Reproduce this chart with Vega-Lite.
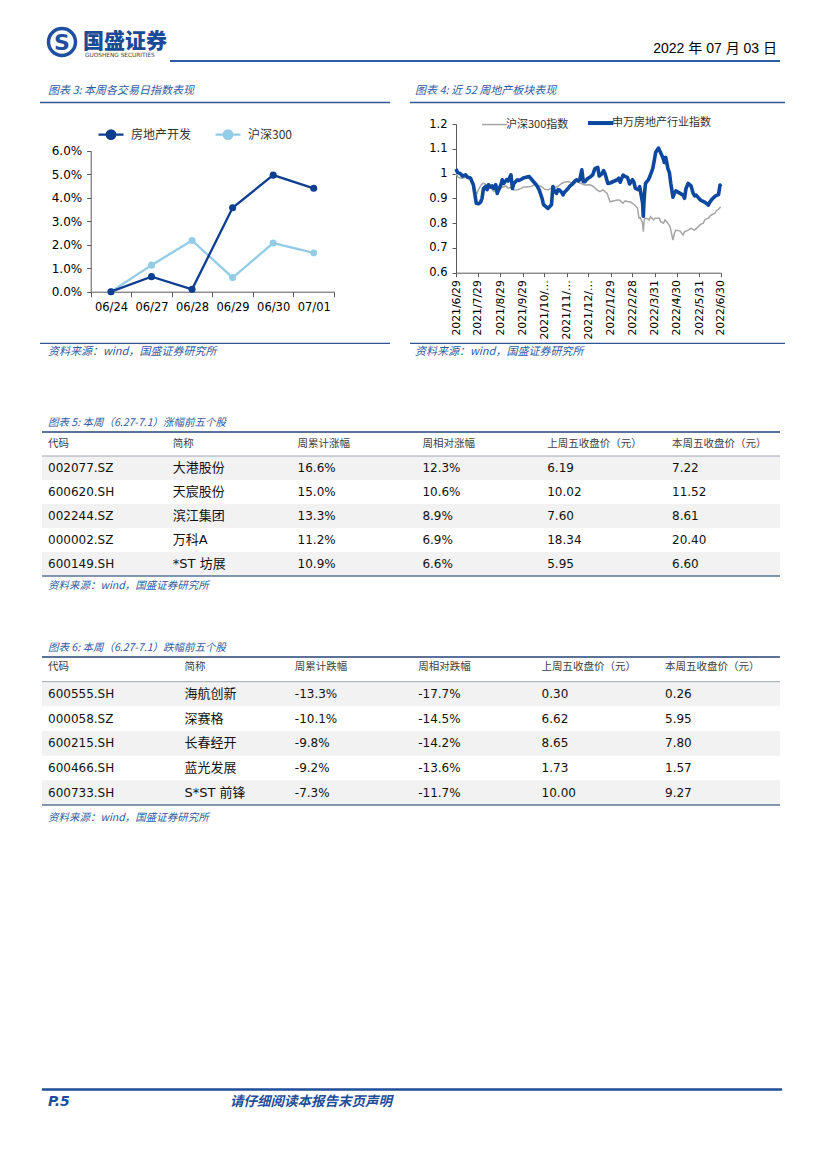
{
"$schema":"https://vega.github.io/schema/vega-lite/v6.json",
"width":827,"height":1169,
"autosize":{"type":"fit","contains":"padding"},
"padding":0,
"background":"#ffffff",
"config":{"view":{"stroke":null},"axis":{"labelFont":"DejaVu Sans","labelColor":"#000000","domainColor":"#595959","tickColor":"#595959","grid":false},"legend":{"labelFont":"Noto Sans CJK SC","labelColor":"#333333"}},
"resolve":{"scale":{"x":"independent","y":"independent","color":"independent"},"axis":{"x":"independent","y":"independent"},"legend":{"color":"independent"}},
"layer":[
{"data":{"values":[{}]},"mark":{"type":"point","shape":"circle","filled":false,"stroke":"#1f4f9e","strokeWidth":3.5,"size":729,"opacity":1},"encoding":{"x":{"value":62},"y":{"value":42}}},
{"data":{"values":[{}]},"mark":{"type":"text","text":"S","font":"DejaVu Sans","fontWeight":"bold","fontSize":22,"fill":"#1f4f9e","align":"center","baseline":"middle"},"encoding":{"x":{"value":62},"y":{"value":43}}},
{"data":{"values":[{}]},"mark":{"type":"text","text":"国盛证券","font":"Noto Sans CJK SC","fontWeight":900,"fontSize":21,"fill":"#1b4a96","align":"left","baseline":"alphabetic"},"encoding":{"x":{"value":83},"y":{"value":48}}},
{"data":{"values":[{}]},"mark":{"type":"text","text":"GUOSHENG SECURITIES","font":"DejaVu Sans","fontSize":5.8,"fill":"#444444","align":"left","baseline":"alphabetic"},"encoding":{"x":{"value":85},"y":{"value":57}}},
{"data":{"values":[{}]},"mark":{"type":"text","text":"2022 年 07 月 03 日","font":"Liberation Sans, Noto Sans CJK SC","fontSize":14,"fill":"#000000","align":"right","baseline":"alphabetic"},"encoding":{"x":{"value":777},"y":{"value":53}}},
{"data":{"values":[{}]},"mark":{"type":"rule","stroke":"#2f5ca6","strokeWidth":2},"encoding":{"x":{"value":170},"x2":{"value":780},"y":{"value":61}}},
{"data":{"values":[{}]},"mark":{"type":"text","text":"图表 3: 本周各交易日指数表现","font":"Noto Sans CJK SC","fontSize":11,"fontStyle":"italic","fill":"#2f5ba3","align":"left","baseline":"alphabetic"},"encoding":{"x":{"value":48},"y":{"value":94}}},
{"data":{"values":[{}]},"mark":{"type":"text","text":"图表 4: 近 52 周地产板块表现","font":"Noto Sans CJK SC","fontSize":11,"fontStyle":"italic","fill":"#2f5ba3","align":"left","baseline":"alphabetic"},"encoding":{"x":{"value":415},"y":{"value":94}}},
{"data":{"values":[{}]},"mark":{"type":"rule","stroke":"#2f5597","strokeWidth":1.3},"encoding":{"x":{"value":40},"x2":{"value":390},"y":{"value":102.5}}},
{"data":{"values":[{}]},"mark":{"type":"rule","stroke":"#2f5597","strokeWidth":1.3},"encoding":{"x":{"value":410},"x2":{"value":785},"y":{"value":102.5}}},
{"data":{"values":[{}]},"mark":{"type":"rule","stroke":"#2f5597","strokeWidth":1.3},"encoding":{"x":{"value":40},"x2":{"value":390},"y":{"value":343.3}}},
{"data":{"values":[{}]},"mark":{"type":"rule","stroke":"#2f5597","strokeWidth":1.3},"encoding":{"x":{"value":410},"x2":{"value":785},"y":{"value":343.3}}},
{"data":{"values":[{}]},"mark":{"type":"text","text":"资料来源：wind，国盛证券研究所","font":"Noto Sans CJK SC","fontSize":11,"fontStyle":"italic","fill":"#2f5ba3","align":"left","baseline":"alphabetic"},"encoding":{"x":{"value":48},"y":{"value":355}}},
{"data":{"values":[{}]},"mark":{"type":"text","text":"资料来源：wind，国盛证券研究所","font":"Noto Sans CJK SC","fontSize":11,"fontStyle":"italic","fill":"#2f5ba3","align":"left","baseline":"alphabetic"},"encoding":{"x":{"value":415},"y":{"value":355}}},
{"data":{"values":[{}]},"mark":{"type":"text","text":"图表 5: 本周（6.27-7.1）涨幅前五个股","font":"Noto Sans CJK SC","fontSize":10.5,"fontStyle":"italic","fill":"#2f5ba3","align":"left","baseline":"alphabetic"},"encoding":{"x":{"value":48},"y":{"value":425.5}}},
{"data":{"values":[{}]},"mark":{"type":"text","text":"资料来源：wind，国盛证券研究所","font":"Noto Sans CJK SC","fontSize":10.5,"fontStyle":"italic","fill":"#2f5ba3","align":"left","baseline":"alphabetic"},"encoding":{"x":{"value":48},"y":{"value":589}}},
{"data":{"values":[{}]},"mark":{"type":"text","text":"图表 6: 本周（6.27-7.1）跌幅前五个股","font":"Noto Sans CJK SC","fontSize":10.5,"fontStyle":"italic","fill":"#2f5ba3","align":"left","baseline":"alphabetic"},"encoding":{"x":{"value":48},"y":{"value":650.5}}},
{"data":{"values":[{}]},"mark":{"type":"text","text":"资料来源：wind，国盛证券研究所","font":"Noto Sans CJK SC","fontSize":10.5,"fontStyle":"italic","fill":"#2f5ba3","align":"left","baseline":"alphabetic"},"encoding":{"x":{"value":48},"y":{"value":821}}},
{"data":{"values":[{}]},"mark":{"type":"rule","stroke":"#1f4e9a","strokeWidth":2.5},"encoding":{"x":{"value":42},"x2":{"value":782},"y":{"value":1089.5}}},
{"data":{"values":[{}]},"mark":{"type":"text","text":"P.5","font":"DejaVu Sans","fontSize":14,"fontStyle":"italic","fontWeight":"bold","fill":"#1f4e9a","align":"left","baseline":"alphabetic"},"encoding":{"x":{"value":48},"y":{"value":1106}}},
{"data":{"values":[{}]},"mark":{"type":"text","text":"请仔细阅读本报告末页声明","font":"Noto Sans CJK SC","fontSize":13.5,"fontStyle":"italic","fontWeight":"bold","fill":"#1f4e9a","align":"left","baseline":"alphabetic"},"encoding":{"x":{"value":230},"y":{"value":1106}}},
{
 "data":{"values":[
  {"d":"06/24","s":"房地产开发","v":0},
  {"d":"06/27","s":"房地产开发","v":0.0064},
  {"d":"06/28","s":"房地产开发","v":0.001},
  {"d":"06/29","s":"房地产开发","v":0.0357},
  {"d":"06/30","s":"房地产开发","v":0.0496},
  {"d":"07/01","s":"房地产开发","v":0.044},
  {"d":"06/24","s":"沪深300","v":0},
  {"d":"06/27","s":"沪深300","v":0.0113},
  {"d":"06/28","s":"沪深300","v":0.0218},
  {"d":"06/29","s":"沪深300","v":0.006},
  {"d":"06/30","s":"沪深300","v":0.0207},
  {"d":"07/01","s":"沪深300","v":0.0165}
 ]},
 "encoding":{
  "x":{"field":"d","type":"ordinal","bandPosition":0.5,"scale":{"type":"band","domain":["06/24","06/27","06/28","06/29","06/30","07/01"],"range":[90.7,334],"paddingInner":0,"paddingOuter":0},"axis":{"orient":"bottom","offset":-877.3,"title":null,"labelAngle":0,"tickBand":"extent","tickSize":5,"labelPadding":5,"labelFontSize":11.5}},
  "y":{"field":"v","type":"quantitative","scale":{"domain":[0,0.06],"range":[291.7,150.7],"nice":false,"zero":false},"axis":{"orient":"left","offset":-90.7,"title":null,"values":[0,0.01,0.02,0.03,0.04,0.05,0.06],"format":".1%","tickSize":4,"labelPadding":5,"labelFontSize":12}},
  "color":{"field":"s","type":"nominal","scale":{"domain":["房地产开发","沪深300"],"range":["#0e3e8f","#93cce6"]},"legend":{"orient":"none","legendX":97,"legendY":120.5,"direction":"horizontal","title":null,"symbolType":"M-1,0L1,0M0.34,0A0.34,0.34,0,1,1,-0.34,0A0.34,0.34,0,1,1,0.34,0Z","symbolSize":625,"symbolStrokeWidth":2.3,"symbolOpacity":1,"labelFontSize":12,"labelOffset":6,"columnPadding":18,"encode":{"symbols":{"update":{"fill":{"signal":"datum.value === '房地产开发' ? '#0e3e8f' : '#93cce6'"},"stroke":{"signal":"datum.value === '房地产开发' ? '#0e3e8f' : '#93cce6'"}}}}}}
 },
 "layer":[
  {"transform":[{"filter":"datum.s == '沪深300'"}],"mark":{"type":"line","strokeWidth":2.3}},
  {"transform":[{"filter":"datum.s == '沪深300'"}],"mark":{"type":"point","filled":true,"size":50,"opacity":1}},
  {"transform":[{"filter":"datum.s == '房地产开发'"}],"mark":{"type":"line","strokeWidth":2.3}},
  {"transform":[{"filter":"datum.s == '房地产开发'"}],"mark":{"type":"point","filled":true,"size":50,"opacity":1}}
 ]
},
{
 "data":{"values":[
{"d":"2021/06/29","s":"沪深300指数","v":1.0},{"d":"2021/07/02","s":"沪深300指数","v":0.985},{"d":"2021/07/07","s":"沪深300指数","v":0.98},{"d":"2021/07/12","s":"沪深300指数","v":0.985},{"d":"2021/07/16","s":"沪深300指数","v":0.98},{"d":"2021/07/20","s":"沪深300指数","v":0.975},{"d":"2021/07/23","s":"沪深300指数","v":0.96},{"d":"2021/07/26","s":"沪深300指数","v":0.925},{"d":"2021/07/28","s":"沪深300指数","v":0.92},{"d":"2021/07/30","s":"沪深300指数","v":0.935},{"d":"2021/08/03","s":"沪深300指数","v":0.955},{"d":"2021/08/06","s":"沪深300指数","v":0.961},{"d":"2021/08/10","s":"沪深300指数","v":0.955},{"d":"2021/08/13","s":"沪深300指数","v":0.95},{"d":"2021/08/17","s":"沪深300指数","v":0.94},{"d":"2021/08/20","s":"沪深300指数","v":0.928},{"d":"2021/08/24","s":"沪深300指数","v":0.935},{"d":"2021/08/27","s":"沪深300指数","v":0.932},{"d":"2021/09/01","s":"沪深300指数","v":0.945},{"d":"2021/09/06","s":"沪深300指数","v":0.95},{"d":"2021/09/09","s":"沪深300指数","v":0.941},{"d":"2021/09/14","s":"沪深300指数","v":0.945},{"d":"2021/09/17","s":"沪深300指数","v":0.934},{"d":"2021/09/22","s":"沪深300指数","v":0.935},{"d":"2021/09/27","s":"沪深300指数","v":0.94},{"d":"2021/09/30","s":"沪深300指数","v":0.945},{"d":"2021/10/11","s":"沪深300指数","v":0.948},{"d":"2021/10/15","s":"沪深300指数","v":0.955},{"d":"2021/10/20","s":"沪深300指数","v":0.952},{"d":"2021/10/25","s":"沪深300指数","v":0.948},{"d":"2021/10/29","s":"沪深300指数","v":0.938},{"d":"2021/11/03","s":"沪深300指数","v":0.934},{"d":"2021/11/08","s":"沪深300指数","v":0.941},{"d":"2021/11/12","s":"沪深300指数","v":0.945},{"d":"2021/11/17","s":"沪深300指数","v":0.948},{"d":"2021/11/22","s":"沪深300指数","v":0.96},{"d":"2021/11/26","s":"沪深300指数","v":0.965},{"d":"2021/12/01","s":"沪深300指数","v":0.968},{"d":"2021/12/06","s":"沪深300指数","v":0.962},{"d":"2021/12/10","s":"沪深300指数","v":0.975},{"d":"2021/12/14","s":"沪深300指数","v":0.97},{"d":"2021/12/17","s":"沪深300指数","v":0.962},{"d":"2021/12/21","s":"沪深300指数","v":0.958},{"d":"2021/12/24","s":"沪深300指数","v":0.954},{"d":"2021/12/31","s":"沪深300指数","v":0.955},{"d":"2022/01/04","s":"沪深300指数","v":0.95},{"d":"2022/01/10","s":"沪深300指数","v":0.934},{"d":"2022/01/14","s":"沪深300指数","v":0.927},{"d":"2022/01/18","s":"沪深300指数","v":0.934},{"d":"2022/01/24","s":"沪深300指数","v":0.92},{"d":"2022/01/28","s":"沪深300指数","v":0.886},{"d":"2022/02/07","s":"沪深300指数","v":0.893},{"d":"2022/02/10","s":"沪深300指数","v":0.893},{"d":"2022/02/15","s":"沪深300指数","v":0.88},{"d":"2022/02/18","s":"沪深300指数","v":0.89},{"d":"2022/02/22","s":"沪深300指数","v":0.886},{"d":"2022/02/25","s":"沪深300指数","v":0.886},{"d":"2022/03/01","s":"沪深300指数","v":0.878},{"d":"2022/03/04","s":"沪深300指数","v":0.87},{"d":"2022/03/07","s":"沪深300指数","v":0.86},{"d":"2022/03/08","s":"沪深300指数","v":0.84},{"d":"2022/03/09","s":"沪深300指数","v":0.82},{"d":"2022/03/11","s":"沪深300指数","v":0.822},{"d":"2022/03/14","s":"沪深300指数","v":0.8},{"d":"2022/03/15","s":"沪深300指数","v":0.765},{"d":"2022/03/16","s":"沪深300指数","v":0.805},{"d":"2022/03/17","s":"沪深300指数","v":0.82},{"d":"2022/03/21","s":"沪深300指数","v":0.818},{"d":"2022/03/23","s":"沪深300指数","v":0.813},{"d":"2022/03/25","s":"沪深300指数","v":0.826},{"d":"2022/03/29","s":"沪深300指数","v":0.813},{"d":"2022/03/31","s":"沪深300指数","v":0.82},{"d":"2022/04/06","s":"沪深300指数","v":0.82},{"d":"2022/04/08","s":"沪深300指数","v":0.806},{"d":"2022/04/12","s":"沪深300指数","v":0.8},{"d":"2022/04/14","s":"沪深300指数","v":0.813},{"d":"2022/04/18","s":"沪深300指数","v":0.8},{"d":"2022/04/21","s":"沪深300指数","v":0.785},{"d":"2022/04/22","s":"沪深300指数","v":0.772},{"d":"2022/04/25","s":"沪深300指数","v":0.732},{"d":"2022/04/27","s":"沪深300指数","v":0.759},{"d":"2022/04/29","s":"沪深300指数","v":0.772},{"d":"2022/05/05","s":"沪深300指数","v":0.768},{"d":"2022/05/09","s":"沪深300指数","v":0.752},{"d":"2022/05/11","s":"沪深300指数","v":0.765},{"d":"2022/05/16","s":"沪深300指数","v":0.772},{"d":"2022/05/20","s":"沪深300指数","v":0.779},{"d":"2022/05/25","s":"沪深300指数","v":0.772},{"d":"2022/05/30","s":"沪深300指数","v":0.786},{"d":"2022/06/02","s":"沪深300指数","v":0.795},{"d":"2022/06/06","s":"沪深300指数","v":0.8},{"d":"2022/06/08","s":"沪深300指数","v":0.813},{"d":"2022/06/13","s":"沪深300指数","v":0.82},{"d":"2022/06/15","s":"沪深300指数","v":0.828},{"d":"2022/06/17","s":"沪深300指数","v":0.833},{"d":"2022/06/22","s":"沪深300指数","v":0.84},{"d":"2022/06/24","s":"沪深300指数","v":0.85},{"d":"2022/06/27","s":"沪深300指数","v":0.856},{"d":"2022/06/30","s":"沪深300指数","v":0.866},
{"d":"2021/06/29","s":"申万房地产行业指数","v":1.018},{"d":"2021/07/01","s":"申万房地产行业指数","v":1.005},{"d":"2021/07/05","s":"申万房地产行业指数","v":1.0},{"d":"2021/07/08","s":"申万房地产行业指数","v":0.99},{"d":"2021/07/12","s":"申万房地产行业指数","v":0.995},{"d":"2021/07/15","s":"申万房地产行业指数","v":0.985},{"d":"2021/07/19","s":"申万房地产行业指数","v":0.982},{"d":"2021/07/21","s":"申万房地产行业指数","v":0.968},{"d":"2021/07/23","s":"申万房地产行业指数","v":0.955},{"d":"2021/07/26","s":"申万房地产行业指数","v":0.9},{"d":"2021/07/27","s":"申万房地产行业指数","v":0.88},{"d":"2021/07/30","s":"申万房地产行业指数","v":0.878},{"d":"2021/08/02","s":"申万房地产行业指数","v":0.885},{"d":"2021/08/04","s":"申万房地产行业指数","v":0.9},{"d":"2021/08/06","s":"申万房地产行业指数","v":0.94},{"d":"2021/08/09","s":"申万房地产行业指数","v":0.948},{"d":"2021/08/11","s":"申万房地产行业指数","v":0.935},{"d":"2021/08/13","s":"申万房地产行业指数","v":0.955},{"d":"2021/08/16","s":"申万房地产行业指数","v":0.945},{"d":"2021/08/18","s":"申万房地产行业指数","v":0.95},{"d":"2021/08/20","s":"申万房地产行业指数","v":0.94},{"d":"2021/08/23","s":"申万房地产行业指数","v":0.955},{"d":"2021/08/25","s":"申万房地产行业指数","v":0.92},{"d":"2021/08/27","s":"申万房地产行业指数","v":0.935},{"d":"2021/08/30","s":"申万房地产行业指数","v":0.955},{"d":"2021/09/01","s":"申万房地产行业指数","v":0.975},{"d":"2021/09/03","s":"申万房地产行业指数","v":0.96},{"d":"2021/09/07","s":"申万房地产行业指数","v":0.975},{"d":"2021/09/09","s":"申万房地产行业指数","v":0.97},{"d":"2021/09/13","s":"申万房地产行业指数","v":0.995},{"d":"2021/09/15","s":"申万房地产行业指数","v":0.94},{"d":"2021/09/17","s":"申万房地产行业指数","v":0.96},{"d":"2021/09/22","s":"申万房地产行业指数","v":0.975},{"d":"2021/09/24","s":"申万房地产行业指数","v":0.972},{"d":"2021/09/28","s":"申万房地产行业指数","v":0.978},{"d":"2021/09/30","s":"申万房地产行业指数","v":0.982},{"d":"2021/10/08","s":"申万房地产行业指数","v":0.988},{"d":"2021/10/12","s":"申万房地产行业指数","v":0.975},{"d":"2021/10/14","s":"申万房地产行业指数","v":0.968},{"d":"2021/10/18","s":"申万房地产行业指数","v":0.955},{"d":"2021/10/20","s":"申万房地产行业指数","v":0.945},{"d":"2021/10/22","s":"申万房地产行业指数","v":0.934},{"d":"2021/10/26","s":"申万房地产行业指数","v":0.9},{"d":"2021/10/28","s":"申万房地产行业指数","v":0.875},{"d":"2021/11/01","s":"申万房地产行业指数","v":0.865},{"d":"2021/11/03","s":"申万房地产行业指数","v":0.86},{"d":"2021/11/05","s":"申万房地产行业指数","v":0.865},{"d":"2021/11/08","s":"申万房地产行业指数","v":0.874},{"d":"2021/11/10","s":"申万房地产行业指数","v":0.948},{"d":"2021/11/12","s":"申万房地产行业指数","v":0.93},{"d":"2021/11/15","s":"申万房地产行业指数","v":0.92},{"d":"2021/11/17","s":"申万房地产行业指数","v":0.935},{"d":"2021/11/19","s":"申万房地产行业指数","v":0.934},{"d":"2021/11/22","s":"申万房地产行业指数","v":0.925},{"d":"2021/11/24","s":"申万房地产行业指数","v":0.914},{"d":"2021/11/26","s":"申万房地产行业指数","v":0.925},{"d":"2021/11/29","s":"申万房地产行业指数","v":0.934},{"d":"2021/12/01","s":"申万房地产行业指数","v":0.94},{"d":"2021/12/03","s":"申万房地产行业指数","v":0.948},{"d":"2021/12/06","s":"申万房地产行业指数","v":0.955},{"d":"2021/12/08","s":"申万房地产行业指数","v":0.961},{"d":"2021/12/10","s":"申万房地产行业指数","v":0.968},{"d":"2021/12/13","s":"申万房地产行业指数","v":0.975},{"d":"2021/12/15","s":"申万房地产行业指数","v":0.97},{"d":"2021/12/17","s":"申万房地产行业指数","v":0.975},{"d":"2021/12/20","s":"申万房地产行业指数","v":1.015},{"d":"2021/12/22","s":"申万房地产行业指数","v":0.968},{"d":"2021/12/24","s":"申万房地产行业指数","v":0.967},{"d":"2021/12/28","s":"申万房地产行业指数","v":0.98},{"d":"2021/12/31","s":"申万房地产行业指数","v":0.985},{"d":"2022/01/04","s":"申万房地产行业指数","v":0.995},{"d":"2022/01/07","s":"申万房地产行业指数","v":1.02},{"d":"2022/01/11","s":"申万房地产行业指数","v":1.025},{"d":"2022/01/13","s":"申万房地产行业指数","v":0.99},{"d":"2022/01/17","s":"申万房地产行业指数","v":1.0},{"d":"2022/01/19","s":"申万房地产行业指数","v":1.012},{"d":"2022/01/21","s":"申万房地产行业指数","v":1.0},{"d":"2022/01/25","s":"申万房地产行业指数","v":0.96},{"d":"2022/01/28","s":"申万房地产行业指数","v":0.962},{"d":"2022/02/07","s":"申万房地产行业指数","v":0.975},{"d":"2022/02/09","s":"申万房地产行业指数","v":0.981},{"d":"2022/02/11","s":"申万房地产行业指数","v":0.965},{"d":"2022/02/15","s":"申万房地产行业指数","v":0.994},{"d":"2022/02/17","s":"申万房地产行业指数","v":0.99},{"d":"2022/02/21","s":"申万房地产行业指数","v":0.985},{"d":"2022/02/24","s":"申万房地产行业指数","v":0.958},{"d":"2022/02/28","s":"申万房地产行业指数","v":0.975},{"d":"2022/03/02","s":"申万房地产行业指数","v":0.965},{"d":"2022/03/04","s":"申万房地产行业指数","v":0.94},{"d":"2022/03/08","s":"申万房地产行业指数","v":0.935},{"d":"2022/03/10","s":"申万房地产行业指数","v":0.947},{"d":"2022/03/11","s":"申万房地产行业指数","v":0.93},{"d":"2022/03/14","s":"申万房地产行业指数","v":0.88},{"d":"2022/03/15","s":"申万房地产行业指数","v":0.828},{"d":"2022/03/16","s":"申万房地产行业指数","v":0.89},{"d":"2022/03/17","s":"申万房地产行业指数","v":0.93},{"d":"2022/03/18","s":"申万房地产行业指数","v":0.96},{"d":"2022/03/22","s":"申万房地产行业指数","v":0.975},{"d":"2022/03/24","s":"申万房地产行业指数","v":0.988},{"d":"2022/03/28","s":"申万房地产行业指数","v":1.02},{"d":"2022/03/30","s":"申万房地产行业指数","v":1.05},{"d":"2022/04/01","s":"申万房地产行业指数","v":1.085},{"d":"2022/04/05","s":"申万房地产行业指数","v":1.103},{"d":"2022/04/07","s":"申万房地产行业指数","v":1.09},{"d":"2022/04/11","s":"申万房地产行业指数","v":1.065},{"d":"2022/04/13","s":"申万房地产行业指数","v":1.045},{"d":"2022/04/15","s":"申万房地产行业指数","v":1.065},{"d":"2022/04/18","s":"申万房地产行业指数","v":1.02},{"d":"2022/04/20","s":"申万房地产行业指数","v":1.005},{"d":"2022/04/22","s":"申万房地产行业指数","v":0.96},{"d":"2022/04/25","s":"申万房地产行业指数","v":0.905},{"d":"2022/04/27","s":"申万房地产行业指数","v":0.92},{"d":"2022/04/29","s":"申万房地产行业指数","v":0.93},{"d":"2022/05/05","s":"申万房地产行业指数","v":0.92},{"d":"2022/05/09","s":"申万房地产行业指数","v":0.913},{"d":"2022/05/11","s":"申万房地产行业指数","v":0.9},{"d":"2022/05/13","s":"申万房地产行业指数","v":0.94},{"d":"2022/05/16","s":"申万房地产行业指数","v":0.96},{"d":"2022/05/18","s":"申万房地产行业指数","v":0.955},{"d":"2022/05/20","s":"申万房地产行业指数","v":0.95},{"d":"2022/05/23","s":"申万房地产行业指数","v":0.92},{"d":"2022/05/25","s":"申万房地产行业指数","v":0.91},{"d":"2022/05/27","s":"申万房地产行业指数","v":0.913},{"d":"2022/05/31","s":"申万房地产行业指数","v":0.9},{"d":"2022/06/02","s":"申万房地产行业指数","v":0.893},{"d":"2022/06/07","s":"申万房地产行业指数","v":0.886},{"d":"2022/06/10","s":"申万房地产行业指数","v":0.88},{"d":"2022/06/13","s":"申万房地产行业指数","v":0.873},{"d":"2022/06/15","s":"申万房地产行业指数","v":0.885},{"d":"2022/06/17","s":"申万房地产行业指数","v":0.893},{"d":"2022/06/21","s":"申万房地产行业指数","v":0.905},{"d":"2022/06/23","s":"申万房地产行业指数","v":0.91},{"d":"2022/06/27","s":"申万房地产行业指数","v":0.915},{"d":"2022/06/29","s":"申万房地产行业指数","v":0.954},{"d":"2022/06/30","s":"申万房地产行业指数","v":0.947}
 ]},
 "encoding":{
  "x":{"field":"d","type":"temporal","scale":{"domain":[{"year":2021,"month":6,"date":29},{"year":2022,"month":6,"date":30}],"range":[456,720.7],"nice":false},"axis":{"orient":"bottom","offset":-896.3,"title":null,"values":[{"year":2021,"month":6,"date":29},{"year":2021,"month":7,"date":29},{"year":2021,"month":8,"date":29},{"year":2021,"month":9,"date":29},{"year":2021,"month":10,"date":29},{"year":2021,"month":11,"date":29},{"year":2021,"month":12,"date":29},{"year":2022,"month":1,"date":29},{"year":2022,"month":2,"date":28},{"year":2022,"month":3,"date":31},{"year":2022,"month":4,"date":30},{"year":2022,"month":5,"date":31},{"year":2022,"month":6,"date":30}],"labelExpr":"(year(datum.value) == 2021 && month(datum.value) >= 9) ? timeFormat(datum.value, '%Y/%-m/') + '…' : timeFormat(datum.value, '%Y/%-m/%-d')","labelAngle":270,"labelFlush":false,"labelOverlap":false,"labelBound":false,"tickSize":4,"labelPadding":3,"labelFontSize":10.8}},
  "y":{"field":"v","type":"quantitative","scale":{"domain":[0.6,1.2],"range":[272.7,124],"nice":false,"zero":false},"axis":{"orient":"left","offset":-456,"title":null,"values":[0.6,0.7,0.8,0.9,1,1.1,1.2],"format":".1~f","tickSize":4,"labelPadding":5,"labelFontSize":11.5}},
  "color":{"field":"s","type":"nominal","scale":{"domain":["沪深300指数","申万房地产行业指数"],"range":["#a6a6a6","#0c47a0"]},"legend":{"orient":"none","legendX":489,"legendY":117.3,"direction":"horizontal","title":null,"symbolType":"stroke","symbolSize":625,"symbolStrokeWidth":2,"labelFontSize":11,"labelOffset":6,"columnPadding":11,"encode":{"symbols":{"update":{"strokeWidth":{"signal":"datum.value === '申万房地产行业指数' ? 4 : 1.5"}}}}}}
 },
 "layer":[
  {"transform":[{"filter":"datum.s == '沪深300指数'"}],"mark":{"type":"line","strokeWidth":1.5}},
  {"transform":[{"filter":"datum.s == '申万房地产行业指数'"}],"mark":{"type":"line","strokeWidth":3.6,"strokeJoin":"round"}}
 ]
},
{
 "data":{"values":[
  {"r":0,"code":"代码","name":"简称","cum":"周累计涨幅","rel":"周相对涨幅","prev":"上周五收盘价（元）","curr":"本周五收盘价（元）"},
  {"r":1,"code":"002077.SZ","name":"大港股份","cum":"16.6%","rel":"12.3%","prev":"6.19","curr":"7.22"},
  {"r":2,"code":"600620.SH","name":"天宸股份","cum":"15.0%","rel":"10.6%","prev":"10.02","curr":"11.52"},
  {"r":3,"code":"002244.SZ","name":"滨江集团","cum":"13.3%","rel":"8.9%","prev":"7.60","curr":"8.61"},
  {"r":4,"code":"000002.SZ","name":"万科A","cum":"11.2%","rel":"6.9%","prev":"18.34","curr":"20.40"},
  {"r":5,"code":"600149.SH","name":"*ST 坊展","cum":"10.9%","rel":"6.6%","prev":"5.95","curr":"6.60"}
 ]},
 "transform":[{"fold":["code","name","cum","rel","prev","curr"],"as":["key","value"]}],
 "layer":[
  {"transform":[{"filter":"datum.key == 'code' && (datum.r == 1 || datum.r == 3 || datum.r == 5)"}],"mark":{"type":"rect","fill":"#f2f2f2"},"encoding":{"x":{"value":42},"x2":{"value":780},"y":{"field":"r","type":"ordinal","scale":{"type":"band","domain":[0,1,2,3,4,5],"range":[432,576],"paddingInner":0,"paddingOuter":0},"axis":null}}},
  {"transform":[{"filter":"datum.key == 'code' && datum.r == 0"}],"mark":{"type":"rule","stroke":"#5b7398","strokeWidth":2},"encoding":{"x":{"value":42},"x2":{"value":780},"y":{"field":"r","type":"ordinal","bandPosition":0,"scale":{"type":"band","domain":[0,1,2,3,4,5],"range":[432,576],"paddingInner":0,"paddingOuter":0},"axis":null}}},
  {"transform":[{"filter":"datum.key == 'code' && datum.r == 1"}],"mark":{"type":"rule","stroke":"#a0a8b4","strokeWidth":1},"encoding":{"x":{"value":42},"x2":{"value":780},"y":{"field":"r","type":"ordinal","bandPosition":0,"scale":{"type":"band","domain":[0,1,2,3,4,5],"range":[432,576],"paddingInner":0,"paddingOuter":0},"axis":null}}},
  {"transform":[{"filter":"datum.key == 'code' && datum.r == 5"}],"mark":{"type":"rule","stroke":"#5b7398","strokeWidth":1.5},"encoding":{"x":{"value":42},"x2":{"value":780},"y":{"field":"r","type":"ordinal","bandPosition":1,"scale":{"type":"band","domain":[0,1,2,3,4,5],"range":[432,576],"paddingInner":0,"paddingOuter":0},"axis":null}}},
  {"transform":[{"filter":"datum.r == 0"}],"mark":{"type":"text","align":"left","baseline":"middle","font":"Noto Sans CJK SC","fontSize":10.5,"fill":"#404040"},"encoding":{"x":{"field":"key","type":"nominal","scale":{"type":"point","domain":["code","name","cum","rel","prev","curr"],"range":[48,672],"padding":0},"axis":null},"y":{"field":"r","type":"ordinal","bandPosition":0.5,"scale":{"type":"band","domain":[0,1,2,3,4,5],"range":[432,576],"paddingInner":0,"paddingOuter":0},"axis":null},"text":{"field":"value","type":"nominal"}}},
  {"transform":[{"filter":"datum.r > 0 && datum.key != 'name'"}],"mark":{"type":"text","align":"left","baseline":"middle","font":"DejaVu Sans","fontSize":12,"fill":"#111111"},"encoding":{"x":{"field":"key","type":"nominal","scale":{"type":"point","domain":["code","name","cum","rel","prev","curr"],"range":[48,672],"padding":0},"axis":null},"y":{"field":"r","type":"ordinal","bandPosition":0.5,"scale":{"type":"band","domain":[0,1,2,3,4,5],"range":[432,576],"paddingInner":0,"paddingOuter":0},"axis":null},"text":{"field":"value","type":"nominal"}}},
  {"transform":[{"filter":"datum.r > 0 && datum.key == 'name'"}],"mark":{"type":"text","align":"left","baseline":"middle","font":"DejaVu Sans, Noto Sans CJK SC","fontSize":13,"fill":"#111111"},"encoding":{"x":{"field":"key","type":"nominal","scale":{"type":"point","domain":["code","name","cum","rel","prev","curr"],"range":[48,672],"padding":0},"axis":null},"y":{"field":"r","type":"ordinal","bandPosition":0.5,"scale":{"type":"band","domain":[0,1,2,3,4,5],"range":[432,576],"paddingInner":0,"paddingOuter":0},"axis":null},"text":{"field":"value","type":"nominal"}}}
 ]
},
{
 "data":{"values":[
  {"r":0,"code":"代码","name":"简称","cum":"周累计跌幅","rel":"周相对跌幅","prev":"上周五收盘价（元）","curr":"本周五收盘价（元）"},
  {"r":1,"code":"600555.SH","name":"海航创新","cum":"-13.3%","rel":"-17.7%","prev":"0.30","curr":"0.26"},
  {"r":2,"code":"000058.SZ","name":"深赛格","cum":"-10.1%","rel":"-14.5%","prev":"6.62","curr":"5.95"},
  {"r":3,"code":"600215.SH","name":"长春经开","cum":"-9.8%","rel":"-14.2%","prev":"8.65","curr":"7.80"},
  {"r":4,"code":"600466.SH","name":"蓝光发展","cum":"-9.2%","rel":"-13.6%","prev":"1.73","curr":"1.57"},
  {"r":5,"code":"600733.SH","name":"S*ST 前锋","cum":"-7.3%","rel":"-11.7%","prev":"10.00","curr":"9.27"}
 ]},
 "transform":[{"fold":["code","name","cum","rel","prev","curr"],"as":["key","value"]}],
 "layer":[
  {"transform":[{"filter":"datum.key == 'code' && (datum.r == 1 || datum.r == 3 || datum.r == 5)"}],"mark":{"type":"rect","fill":"#f2f2f2"},"encoding":{"x":{"value":42},"x2":{"value":780},"y":{"field":"r","type":"ordinal","scale":{"type":"band","domain":[0,1,2,3,4,5],"range":[657,805],"paddingInner":0,"paddingOuter":0},"axis":null}}},
  {"transform":[{"filter":"datum.key == 'code' && datum.r == 0"}],"mark":{"type":"rule","stroke":"#5b7398","strokeWidth":2},"encoding":{"x":{"value":42},"x2":{"value":780},"y":{"field":"r","type":"ordinal","bandPosition":0,"scale":{"type":"band","domain":[0,1,2,3,4,5],"range":[657,805],"paddingInner":0,"paddingOuter":0},"axis":null}}},
  {"transform":[{"filter":"datum.key == 'code' && datum.r == 1"}],"mark":{"type":"rule","stroke":"#a0a8b4","strokeWidth":1},"encoding":{"x":{"value":42},"x2":{"value":780},"y":{"field":"r","type":"ordinal","bandPosition":0,"scale":{"type":"band","domain":[0,1,2,3,4,5],"range":[657,805],"paddingInner":0,"paddingOuter":0},"axis":null}}},
  {"transform":[{"filter":"datum.key == 'code' && datum.r == 5"}],"mark":{"type":"rule","stroke":"#5b7398","strokeWidth":1.5},"encoding":{"x":{"value":42},"x2":{"value":780},"y":{"field":"r","type":"ordinal","bandPosition":1,"scale":{"type":"band","domain":[0,1,2,3,4,5],"range":[657,805],"paddingInner":0,"paddingOuter":0},"axis":null}}},
  {"transform":[{"filter":"datum.r == 0 && datum.key != 'name'"}],"mark":{"type":"text","align":"left","baseline":"middle","dy":-2,"font":"Noto Sans CJK SC","fontSize":10.5,"fill":"#404040"},"encoding":{"x":{"field":"key","type":"nominal","scale":{"type":"point","domain":["code","name","cum","rel","prev","curr"],"range":[48,665],"padding":0},"axis":null},"y":{"field":"r","type":"ordinal","bandPosition":0.5,"scale":{"type":"band","domain":[0,1,2,3,4,5],"range":[657,805],"paddingInner":0,"paddingOuter":0},"axis":null},"text":{"field":"value","type":"nominal"}}},
  {"transform":[{"filter":"datum.r == 0 && datum.key == 'name'"}],"mark":{"type":"text","align":"left","baseline":"middle","dy":-2,"dx":13,"font":"Noto Sans CJK SC","fontSize":10.5,"fill":"#404040"},"encoding":{"x":{"field":"key","type":"nominal","scale":{"type":"point","domain":["code","name","cum","rel","prev","curr"],"range":[48,665],"padding":0},"axis":null},"y":{"field":"r","type":"ordinal","bandPosition":0.5,"scale":{"type":"band","domain":[0,1,2,3,4,5],"range":[657,805],"paddingInner":0,"paddingOuter":0},"axis":null},"text":{"field":"value","type":"nominal"}}},
  {"transform":[{"filter":"datum.r > 0 && datum.key != 'name'"}],"mark":{"type":"text","align":"left","baseline":"middle","font":"DejaVu Sans","fontSize":12,"fill":"#111111"},"encoding":{"x":{"field":"key","type":"nominal","scale":{"type":"point","domain":["code","name","cum","rel","prev","curr"],"range":[48,665],"padding":0},"axis":null},"y":{"field":"r","type":"ordinal","bandPosition":0.5,"scale":{"type":"band","domain":[0,1,2,3,4,5],"range":[657,805],"paddingInner":0,"paddingOuter":0},"axis":null},"text":{"field":"value","type":"nominal"}}},
  {"transform":[{"filter":"datum.r > 0 && datum.key == 'name'"}],"mark":{"type":"text","align":"left","baseline":"middle","dx":13,"font":"DejaVu Sans, Noto Sans CJK SC","fontSize":13,"fill":"#111111"},"encoding":{"x":{"field":"key","type":"nominal","scale":{"type":"point","domain":["code","name","cum","rel","prev","curr"],"range":[48,665],"padding":0},"axis":null},"y":{"field":"r","type":"ordinal","bandPosition":0.5,"scale":{"type":"band","domain":[0,1,2,3,4,5],"range":[657,805],"paddingInner":0,"paddingOuter":0},"axis":null},"text":{"field":"value","type":"nominal"}}}
 ]
}
]
}
